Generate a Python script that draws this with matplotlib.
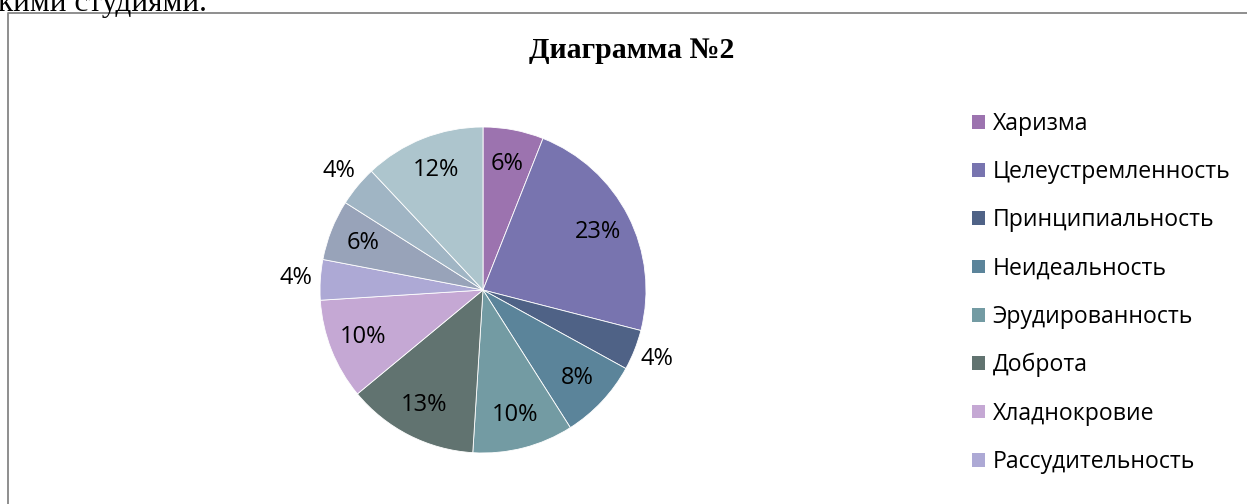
import matplotlib
matplotlib.use("Agg")
import numpy as np
import matplotlib.pyplot as plt
from matplotlib.lines import Line2D
from matplotlib.patches import Patch

# Share of each quality, percent
values = [6, 23, 4, 8, 10, 13, 10, 4, 6, 4, 12]
categories = ["Харизма", "Целеустремленность", "Принципиальность", "Неидеальность",
              "Эрудированность", "Доброта", "Хладнокровие", "Рассудительность"]
colors = ["#9C73AF", "#7874AF", "#4F6286", "#5B849A", "#739BA3", "#617370",
          "#C5A8D4", "#ADA9D5", "#98A3B9", "#A0B5C4", "#ADC5CD"]
title = "Диаграмма №2"
caption_tail = "кими студиями."

W, H = 1247, 504
fig = plt.figure(figsize=(W / 100, H / 100), dpi=100)
fig.patch.set_facecolor("white")

label_font = ["Open Sans", "DejaVu Sans"]
legend_size = 16.6
pct_size = 17

# Line of the surrounding text above the chart frame
fig.text(-2 / W, 1 - 11 / H, caption_tail, family=["Liberation Serif"],
         fontsize=22.5, ha="left", va="baseline", color="black")

# Chart frame (top and left edges)
fig.add_artist(Line2D([8 / W, 8 / W, 1.0], [0.0, 1 - 12.5 / H, 1 - 12.5 / H],
                      color="#868686", lw=1.3, transform=fig.transFigure))

# Pie
cx, cy, R = 483, 290, 163
ax = fig.add_axes([(cx - R) / W, (H - cy - R) / H, 2 * R / W, 2 * R / H])
wedges, _ = ax.pie(values, colors=colors, startangle=90, counterclock=False,
                   wedgeprops=dict(edgecolor="white", linewidth=0.6))
ax.set_xlim(-1, 1)
ax.set_ylim(-1, 1)
ax.axis("off")

for w, v in zip(wedges, values):
    mid = np.deg2rad((w.theta1 + w.theta2) / 2)
    r = 1.15 if v < 5 else 0.79
    ax.text(r * np.cos(mid), r * np.sin(mid), f"{v}%", ha="center", va="center",
            family=label_font, fontsize=pct_size, color="black")

fig.text(632 / W, 1 - 51 / H, title, family=["Liberation Serif"], fontweight="bold",
         fontsize=21.5, ha="center", va="center")

handles = [Patch(facecolor=c, edgecolor="none") for c in colors[:len(categories)]]
fig.legend(handles, categories, loc="upper left",
           bbox_to_anchor=(972 / W, 1 - 112 / H), frameon=False,
           prop=dict(family=label_font, size=legend_size),
           handlelength=0.55, handleheight=0.55, handletextpad=0.35,
           labelspacing=1.05, borderaxespad=0, borderpad=0)

fig.savefig("out.png", dpi=100)
